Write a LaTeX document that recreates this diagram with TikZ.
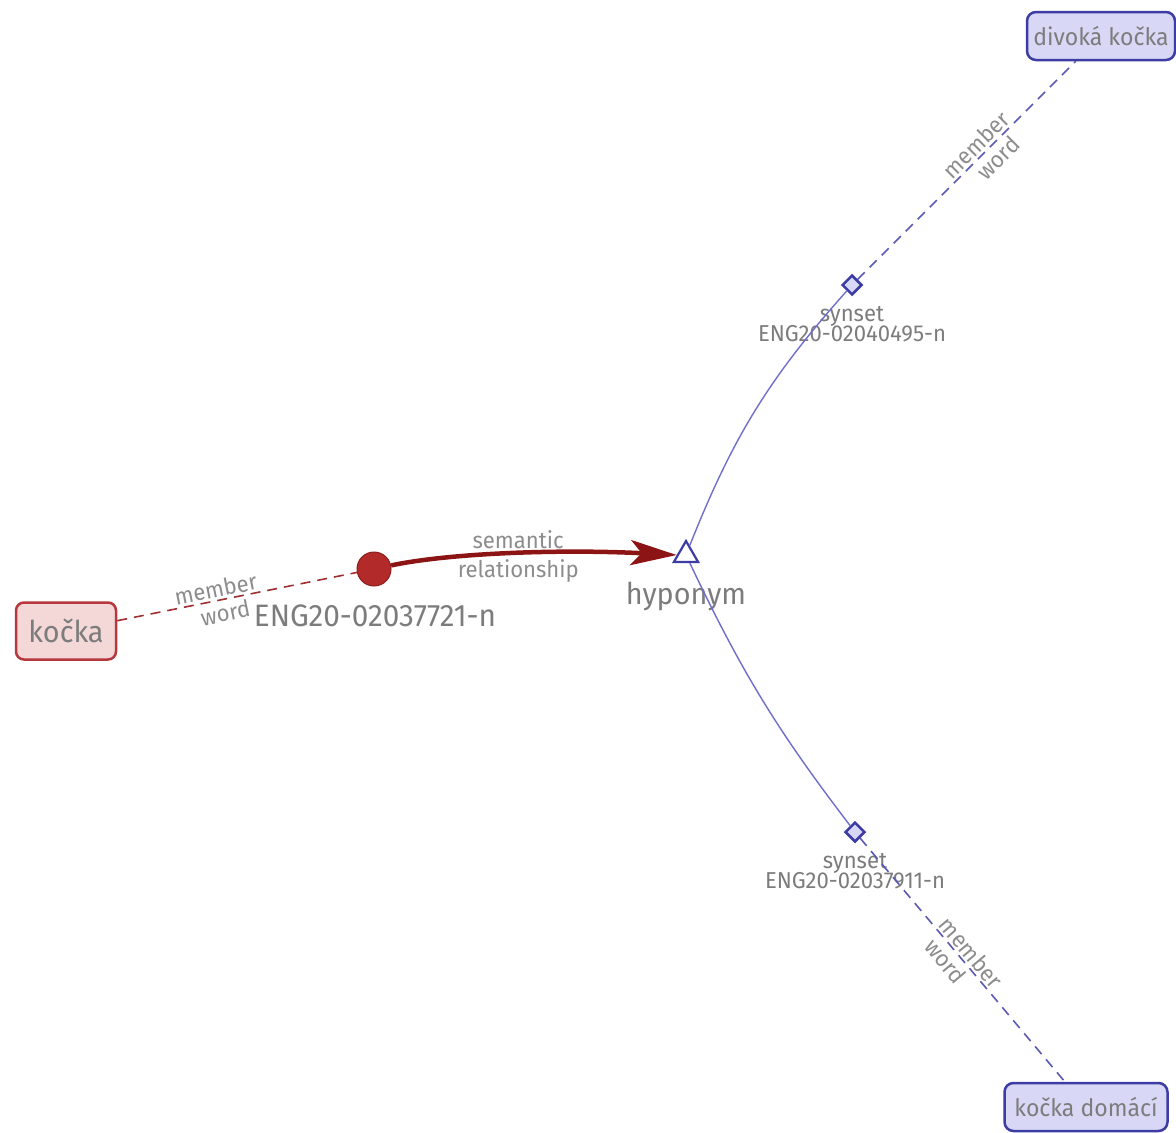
\documentclass[tikz,border=0pt]{standalone}
\usepackage{fontspec}
\setmainfont{Fira Sans}[FakeStretch=0.96]
\usetikzlibrary{shapes.geometric,arrows.meta}
\definecolor{txtgray}{HTML}{7C7C7C}
\definecolor{lblgray}{HTML}{8C8C8C}
\definecolor{wordred}{HTML}{B5383C}
\definecolor{wordredfill}{HTML}{F4D8D8}
\definecolor{synred}{HTML}{B22A2A}
\definecolor{synredline}{HTML}{8E1D1D}
\definecolor{relred}{HTML}{8C1414}
\definecolor{blueline}{HTML}{6E6ECC}
\definecolor{blueborder}{HTML}{3C3CA4}
\definecolor{bluefill}{HTML}{D8D8F6}
\definecolor{dashblue}{HTML}{5A5AB4}
\definecolor{dashred}{HTML}{A03030}
\begin{document}
\begin{tikzpicture}[x=1pt,y=-1pt,
  redword/.style={draw=wordred, fill=wordredfill, line width=2.5pt, rounded corners=8pt,
    minimum width=100pt, minimum height=57pt, inner sep=0pt, text=txtgray,
    font=\fontsize{30}{32}\selectfont},
  blueword/.style={draw=blueborder, fill=bluefill, line width=2.5pt, rounded corners=9pt,
    minimum height=48pt, inner sep=0pt, text=txtgray,
    font=\fontsize{24}{26}\selectfont},
  synsetdot/.style={circle, fill=synred, draw=synredline, line width=1pt,
    minimum size=34pt, inner sep=0pt},
  synsetdia/.style={diamond, draw=blueborder, fill=bluefill, line width=2.5pt,
    minimum size=20pt, inner sep=0pt},
  reltri/.style={regular polygon, regular polygon sides=3, draw=blueborder, fill=white,
    line width=2.2pt, minimum size=28pt, inner sep=0pt},
  biglbl/.style={text=txtgray, font=\fontsize{31}{33}\selectfont, inner sep=0pt},
  smalllbl/.style={text=txtgray, font=\fontsize{23}{25}\selectfont, inner sep=0pt, align=center},
  edgelbl/.style={text=lblgray, font=\fontsize{23}{24}\selectfont, inner sep=0pt, sloped},
  memberred/.style={draw=dashred, line width=1.6pt, dash pattern=on 10pt off 7pt},
  memberblue/.style={draw=dashblue, line width=1.6pt, dash pattern=on 10pt off 7pt},
  hypoline/.style={draw=blueline, line width=1.4pt},
  semrel/.style={draw=relred, line width=4.5pt, -{Stealth[length=46pt,width=25pt,inset=11pt]}}
]
\useasboundingbox (0,0) rectangle (1176,1133);

% word and synset nodes
\node[redword] (kocka) at (66,631) {kočka};
\node[synsetdot] (syn0) at (374,569) {};
\node[biglbl] (syn0lbl) at (375,616) {ENG20-02037721-n};

\node[reltri] (hypo) at (686,555) {};
\node[biglbl, font=\fontsize{30}{32}\selectfont] (hypolbl) at (686,596) {hyponym};

\node[synsetdia] (syn1) at (852,285) {};
\node[smalllbl] (syn1lbl) at (852,324) {synset\\[-5pt]ENG20-02040495-n};

\node[synsetdia] (syn2) at (855,832) {};
\node[smalllbl] (syn2lbl) at (855,871) {synset\\[-5pt]ENG20-02037911-n};

\node[blueword, minimum width=148pt] (divoka) at (1101,36) {divoká kočka};
\node[blueword, minimum width=163pt] (domaci) at (1086,1107) {kočka domácí};

% member word links
\draw[memberred] (kocka) -- (syn0)
  node[edgelbl, pos=0.42, above=2pt] {member}
  node[edgelbl, pos=0.44, below=4pt] {word};
\draw[memberblue] (syn1) -- (divoka)
  node[edgelbl, pos=0.58, above=2pt] {member}
  node[edgelbl, pos=0.6, below=4pt] {word};
\draw[memberblue] (syn2) -- (domaci)
  node[edgelbl, pos=0.5, above=2pt] {member}
  node[edgelbl, pos=0.47, below=4pt] {word};

% hyponym links
\draw[hypoline] (hypo) to[bend left=10] (syn1);
\draw[hypoline] (hypo) to[bend right=6] (syn2);

% semantic relationship
\draw[semrel] (syn0) .. controls (450,553) and (560,549) .. (hypo.west)
  node[edgelbl, pos=0.52, above=2pt, rotate=-2] {semantic}
  node[edgelbl, pos=0.52, below=4pt, rotate=-2] {relationship};
\end{tikzpicture}
\end{document}
